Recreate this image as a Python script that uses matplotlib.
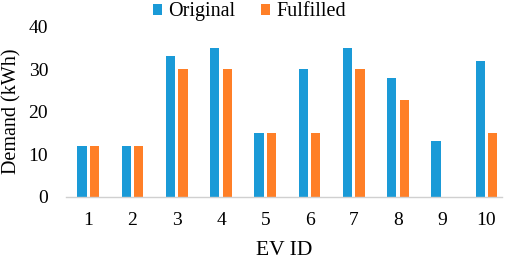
import numpy as np
import matplotlib
matplotlib.use('Agg')
import matplotlib.pyplot as plt

# data
ev_ids = ['1', '2', '3', '4', '5', '6', '7', '8', '9', '10']
original = [12, 12, 33, 35, 15, 30, 35, 28, 13, 32]
fulfilled = [12, 12, 30, 30, 15, 15, 30, 22.7, 0, 15]

plt.rcParams['font.family'] = 'Liberation Serif'

fig = plt.figure(figsize=(5.05, 2.59), dpi=100, facecolor='w')
ax = fig.add_axes([0.131, 0.2405, 0.863, 0.6565])

x = np.arange(1, len(ev_ids) + 1)
w = 0.21
off = 0.143
ax.bar(x - off, original, w, color='#1A9AD7', label='Original', zorder=2)
ax.bar(x + off, fulfilled, w, color='#FF7F27', label='Fulfilled', zorder=2)

ax.set_xlim(0.5, 10.35)
ax.set_ylim(0, 40)
ax.set_yticks([0, 10, 20, 30, 40])
ax.set_xticks(x)
ax.set_xticklabels(ev_ids)
ax.tick_params(axis='both', length=0, labelsize=14)
ax.tick_params(axis='x', pad=11)
ax.tick_params(axis='y', pad=13)

for s in ['top', 'right', 'left']:
    ax.spines[s].set_visible(False)
ax.spines['bottom'].set_color('#D0D0D0')
ax.spines['bottom'].set_linewidth(1)

ax.set_xlabel('EV ID', fontsize=15.5, labelpad=9)
ax.set_ylabel('Demand (kWh)', fontsize=14.5, labelpad=5)

ax.legend(loc='upper center', bbox_to_anchor=(0.42, 1.19), ncol=2, frameon=False,
          fontsize=14.5, handlelength=0.45, handleheight=0.45, handletextpad=0.3,
          columnspacing=1.3, borderaxespad=0)

fig.savefig('out.png', dpi=100)
